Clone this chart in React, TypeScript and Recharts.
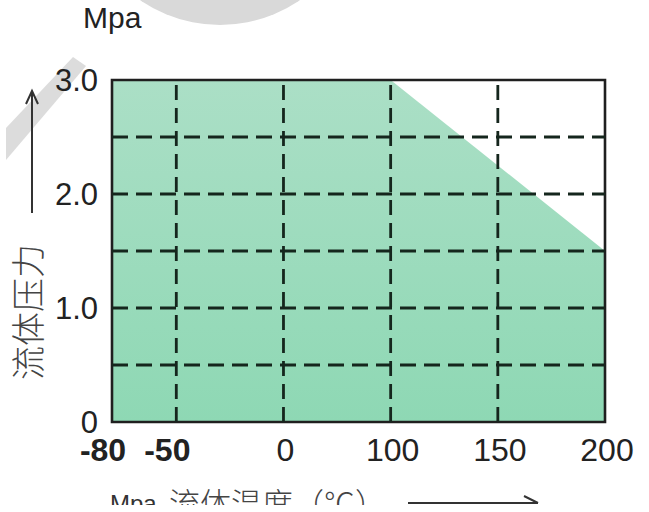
import { Area, AreaChart, ReferenceArea, ReferenceLine, XAxis, YAxis } from 'recharts'

// working envelope: fluid temperature (°C) vs. allowed pressure (MPa)
const envelopeTemps = [-80, 100, 200]
const envelopePressures = [3.0, 3.0, 1.5]

const tempTicks = [-80, -50, 0, 100, 150, 200]
const boldTemps = [-80, -50]
const pressureTicks = [0, 1.0, 2.0, 3.0]
const pressureGrid = [0.5, 1.0, 1.5, 2.0, 2.5]
const tempGrid = [-50, 0, 100, 150]

// the temperature axis is not linear: each labelled step gets one grid cell,
// the -80 end sits 0.6 of a cell before -50
const slotOf = (t: number) => {
  const slots = [-0.6, 0, 1, 2, 3, 4]
  for (let i = 0; i < tempTicks.length - 1; i++) {
    const a = tempTicks[i]
    const b = tempTicks[i + 1]
    if (t <= b) return slots[i] + ((t - a) / (b - a)) * (slots[i + 1] - slots[i])
  }
  return slots[slots.length - 1]
}

const chartData = envelopeTemps.map((t, i) => ({
  temp: t,
  slot: slotOf(t),
  pressure: envelopePressures[i],
}))

const FONT = '"Liberation Sans", Arial, sans-serif'
const CJK = '"Noto Sans CJK SC", sans-serif'
const INK = '#222'
const GRID = '#15261d'

function TempTick({ x, y, payload }: any) {
  const temp = tempTicks.find((t) => Math.abs(slotOf(t) - payload.value) < 1e-6)
  const bold = temp !== undefined && boldTemps.includes(temp)
  return (
    <text
      x={x + (bold ? -9 : 2)}
      y={y}
      dy="0.71em"
      textAnchor="middle"
      fontFamily={FONT}
      fontSize={32}
      fontWeight={bold ? 700 : 400}
      fill={INK}
    >
      {temp}
    </text>
  )
}

export default function App() {
  return (
    <div style={{ position: 'absolute', left: 0, top: 0, width: 649, height: 512, overflow: 'hidden', background: '#fff' }}>
      {/* faint background decoration */}
      <svg width={649} height={512} style={{ position: 'absolute', left: 0, top: 0 }}>
        <circle cx={220} cy={-116} r={141} fill="#d9d9d9" />
        <polygon points="6,128 73,57 86,66 6,160" fill="#dcdcdc" />
      </svg>

      <div style={{ position: 'absolute', left: 0, top: 0 }}>
        <AreaChart
          width={649}
          height={512}
          data={chartData}
          margin={{ top: 80, right: 44, bottom: 50, left: 52 }}
        >
          <defs>
            <linearGradient id="envelopeFill" x1="0" y1="0" x2="0" y2="1">
              <stop offset="0%" stopColor="#abdfc6" />
              <stop offset="100%" stopColor="#8ed8b4" />
            </linearGradient>
          </defs>
          <XAxis
            type="number"
            dataKey="slot"
            domain={[slotOf(-80), slotOf(200)]}
            ticks={tempTicks.map(slotOf)}
            allowDataOverflow
            height={40}
            axisLine={false}
            tickLine={false}
            tickSize={0}
            tickMargin={16}
            interval={0}
            tick={<TempTick />}
          />
          <YAxis
            type="number"
            domain={[0, 3]}
            ticks={pressureTicks}
            allowDataOverflow
            width={60}
            axisLine={false}
            tickLine={false}
            tickSize={0}
            tickMargin={14}
            interval={0}
            tickFormatter={(v: number) => (v === 0 ? '0' : v.toFixed(1))}
            tick={{ fontFamily: FONT, fontSize: 31, fill: INK }}
          />
          <Area
            type="linear"
            dataKey="pressure"
            stroke="none"
            fill="url(#envelopeFill)"
            fillOpacity={1}
            isAnimationActive={false}
          />
          {pressureGrid.map((p) => (
            <ReferenceLine key={`h${p}`} y={p} stroke={GRID} strokeWidth={2.8} strokeDasharray="16 8" />
          ))}
          {tempGrid.map((t) => (
            <ReferenceLine key={`v${t}`} x={slotOf(t)} stroke={GRID} strokeWidth={2.8} strokeDasharray="15 8" />
          ))}
          <ReferenceArea
            x1={slotOf(-80)}
            x2={slotOf(200)}
            y1={0}
            y2={3}
            fill="none"
            fillOpacity={0}
            stroke="#1f1f1f"
            strokeWidth={2.6}
          />
        </AreaChart>
      </div>

      {/* unit, axis titles and arrows */}
      <svg width={649} height={512} style={{ position: 'absolute', left: 0, top: 0, pointerEvents: 'none' }}>
        <text x={83} y={28} fontFamily={FONT} fontSize={30} fill={INK}>
          Mpa
        </text>

        <line x1={32} y1={213} x2={32} y2={92} stroke="#333" strokeWidth={2} />
        <polyline points="26,104 32,91 38,104" fill="none" stroke="#333" strokeWidth={2} />
        <text
          transform="translate(41, 312) rotate(-90)"
          textAnchor="middle"
          fontFamily={CJK}
          fontSize={34}
          fontWeight={300}
          fill="#444"
        >
          流体压力
        </text>

        <text x={110} y={512} fontFamily={FONT} fontSize={24} fill="#333">
          Mpa
        </text>
        <text x={169} y={515} fontFamily={CJK} fontSize={31} fontWeight={300} fill="#444">
          流体温度（℃）
        </text>
        <line x1={408} y1={503} x2={538} y2={503} stroke="#333" strokeWidth={2} />
        <polyline points="524,496 538,503" fill="none" stroke="#333" strokeWidth={2} />
        <rect x={0} y={505} width={649} height={7} fill="#fff" />
      </svg>
    </div>
  )
}
